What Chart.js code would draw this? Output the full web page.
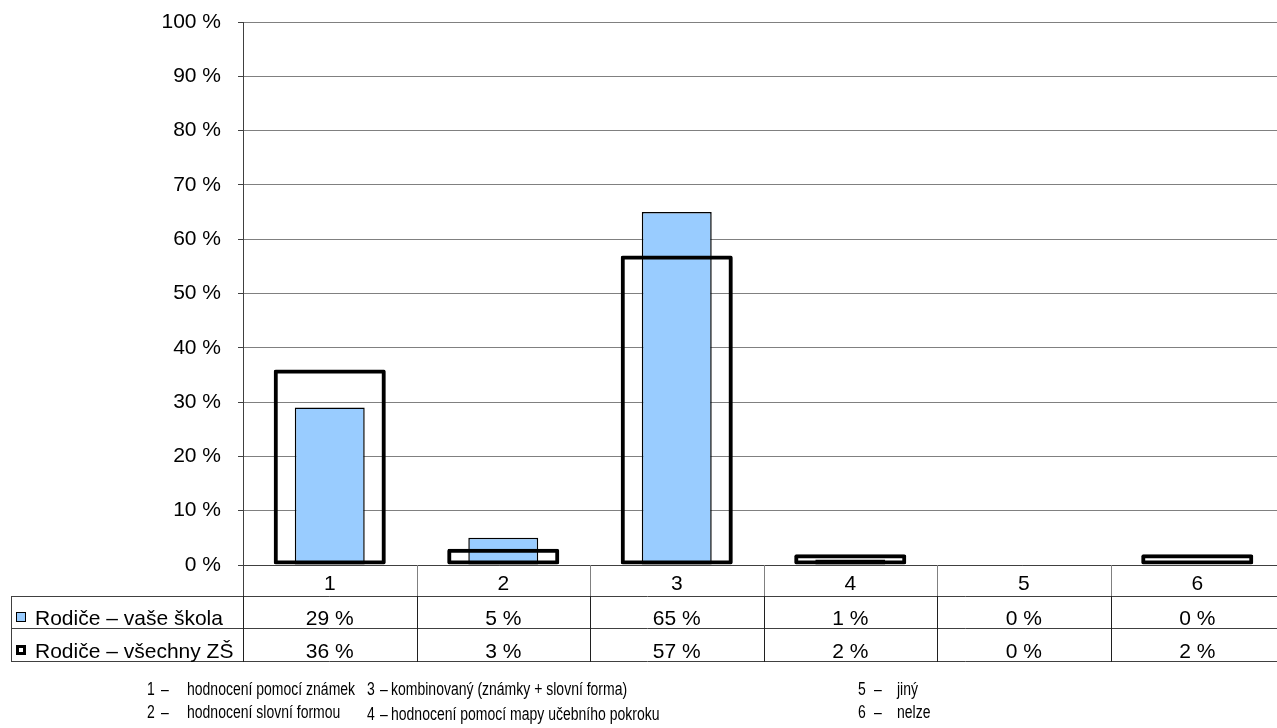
<!DOCTYPE html>
<html>
<head>
<meta charset="utf-8">
<script src="https://cdn.jsdelivr.net/npm/chart.js@4.4.1/dist/chart.umd.min.js"></script>
<style>
  html, body { margin: 0; padding: 0; background: #ffffff; overflow: hidden; width: 1277px; height: 728px; }
  #wrap { position: absolute; left: 0; top: 0; width: 1300px; height: 728px; }
  .fn { position: absolute; font-family: "Liberation Sans", Arial, sans-serif; font-size: 17.5px; color: #000; white-space: nowrap; line-height: 1; transform: scaleX(0.8); transform-origin: 0 0; }
</style>
</head>
<body>
<div id="wrap"><canvas id="c"></canvas></div>
<div id="notes"></div>
<script>
// ---- data ----
const categories = ['1', '2', '3', '4', '5', '6'];
const seriesNames = ['Rodiče – vaše škola', 'Rodiče – všechny ZŠ'];
const vaseSkola = [29, 5, 65, 1, 0, 0];
const vsechnyZS = [36, 3, 57, 2, 0, 2];
const yTickValues = [0, 10, 20, 30, 40, 50, 60, 70, 80, 90, 100];
const noteNumbers = ['1', '2', '3', '4', '5', '6'];
const noteTexts = [
  'hodnocení pomocí známek',
  'hodnocení slovní formou',
  'kombinovaný (známky + slovní forma)',
  'hodnocení pomocí mapy učebního pokroku',
  'jiný',
  'nelze'
];

// ---- footnotes (HTML text) ----
(function () {
  const notes = document.getElementById('notes');
  const colX = [[147, 161, 187], [367, 380, 391], [858, 874, 897]];
  const rowY = [681, 704];
  noteNumbers.forEach((n, i) => {
    const col = Math.floor(i / 2), row = i % 2;
    const y = rowY[row] + (col === 1 && row === 1 ? 2 : 0);
    const parts = [n, '–', noteTexts[i]];
    parts.forEach((t, k) => {
      const d = document.createElement('div');
      d.className = 'fn';
      d.style.left = colX[col][k] + 'px';
      d.style.top = y + 'px';
      d.textContent = t;
      notes.appendChild(d);
    });
  });
})();

// ---- data table plugin ----
const FONT = '21px "Liberation Sans", Arial, sans-serif';
const tablePlugin = {
  id: 'dataTable',
  afterDraw(chart) {
    const ctx = chart.ctx;
    const area = chart.chartArea;
    const xs = chart.scales.x;
    const b = area.bottom;
    const rows = [b, b + 31, b + 63, b + 96];
    const leftEdge = 11;
    const n = categories.length;
    const step = (area.right - area.left) / n;
    ctx.save();
    ctx.lineWidth = 1;
    ctx.strokeStyle = '#404040';
    ctx.beginPath();
    ctx.moveTo(area.left - 5, Math.round(rows[0]) + 0.5);
    ctx.lineTo(area.right, Math.round(rows[0]) + 0.5);
    for (let r = 1; r < rows.length; r++) {
      ctx.moveTo(leftEdge, Math.round(rows[r]) + 0.5);
      ctx.lineTo(area.right, Math.round(rows[r]) + 0.5);
    }
    ctx.moveTo(leftEdge + 0.5, Math.round(rows[1]));
    ctx.lineTo(leftEdge + 0.5, Math.round(rows[3]) + 1);
    ctx.stroke();
    // vertical lines: lighter in the category row, darker in data rows
    for (let k = 0; k <= n; k++) {
      const x = Math.round(area.left + k * step) + 0.5;
      ctx.strokeStyle = k === 0 ? '#404040' : '#808080';
      ctx.beginPath();
      ctx.moveTo(x, Math.round(rows[0]));
      ctx.lineTo(x, Math.round(rows[1]));
      ctx.stroke();
      ctx.strokeStyle = '#202020';
      ctx.beginPath();
      ctx.moveTo(x, Math.round(rows[1]));
      ctx.lineTo(x, Math.round(rows[3]) + 1);
      ctx.stroke();
    }

    ctx.fillStyle = '#000';
    ctx.font = FONT;
    ctx.textAlign = 'center';
    ctx.textBaseline = 'alphabetic';
    const baselines = [rows[0] + 25, rows[1] + 29, rows[2] + 30];
    categories.forEach((c, i) => {
      const cx = xs.getPixelForValue(i);
      ctx.fillText(c, cx, baselines[0]);
      ctx.fillText(vaseSkola[i] + ' %', cx, baselines[1]);
      ctx.fillText(vsechnyZS[i] + ' %', cx, baselines[2]);
    });
    ctx.textAlign = 'left';
    ctx.fillText(seriesNames[0], 35, baselines[1]);
    ctx.fillText(seriesNames[1], 35, baselines[2]);
    ctx.fillStyle = '#99CCFF';
    ctx.fillRect(17, rows[1] + 17, 8, 8);
    ctx.strokeStyle = '#000';
    ctx.lineWidth = 1;
    ctx.strokeRect(16.5, rows[1] + 16.5, 9, 9);
    ctx.lineWidth = 3;
    ctx.strokeRect(17.5, rows[2] + 18.5, 7, 7);
    ctx.restore();
  }
};

new Chart(document.getElementById('c'), {
  type: 'bar',
  data: {
    labels: categories,
    datasets: [
      {
        label: seriesNames[0],
        data: vaseSkola,
        backgroundColor: '#99CCFF',
        borderColor: '#000000',
        borderWidth: 1.5,
        borderSkipped: false,
        grouped: false,
        categoryPercentage: 1,
        barPercentage: 0.403,
        order: 1
      },
      {
        label: seriesNames[1],
        data: vsechnyZS,
        backgroundColor: 'rgba(0,0,0,0)',
        borderColor: '#000000',
        borderWidth: 4,
        borderRadius: 2,
        borderSkipped: false,
        grouped: false,
        categoryPercentage: 1,
        barPercentage: 0.646,
        order: 0
      }
    ]
  },
  options: {
    responsive: true,
    maintainAspectRatio: false,
    animation: false,
    devicePixelRatio: 1,
    layout: { padding: { left: 0, top: 22, right: 16, bottom: 163 } },
    plugins: { legend: { display: false }, tooltip: { enabled: false }, title: { display: false } },
    scales: {
      x: { display: false, offset: true },
      y: {
        min: 0,
        max: 100,
        afterBuildTicks(scale) { scale.ticks = yTickValues.map(v => ({ value: v })); },
        afterFit(scale) { scale.width = 243; scale.paddingTop = 0; scale.paddingBottom = 0; },
        grid: { color: '#808080', lineWidth: 1, tickLength: 5, tickColor: '#404040', drawTicks: true },
        border: { color: '#404040', width: 1 },
        ticks: {
          padding: 17,
          color: '#000',
          font: { family: '"Liberation Sans", Arial, sans-serif', size: 21 },
          callback: v => v + ' %'
        }
      }
    }
  },
  plugins: [tablePlugin]
});
</script>
</body>
</html>
